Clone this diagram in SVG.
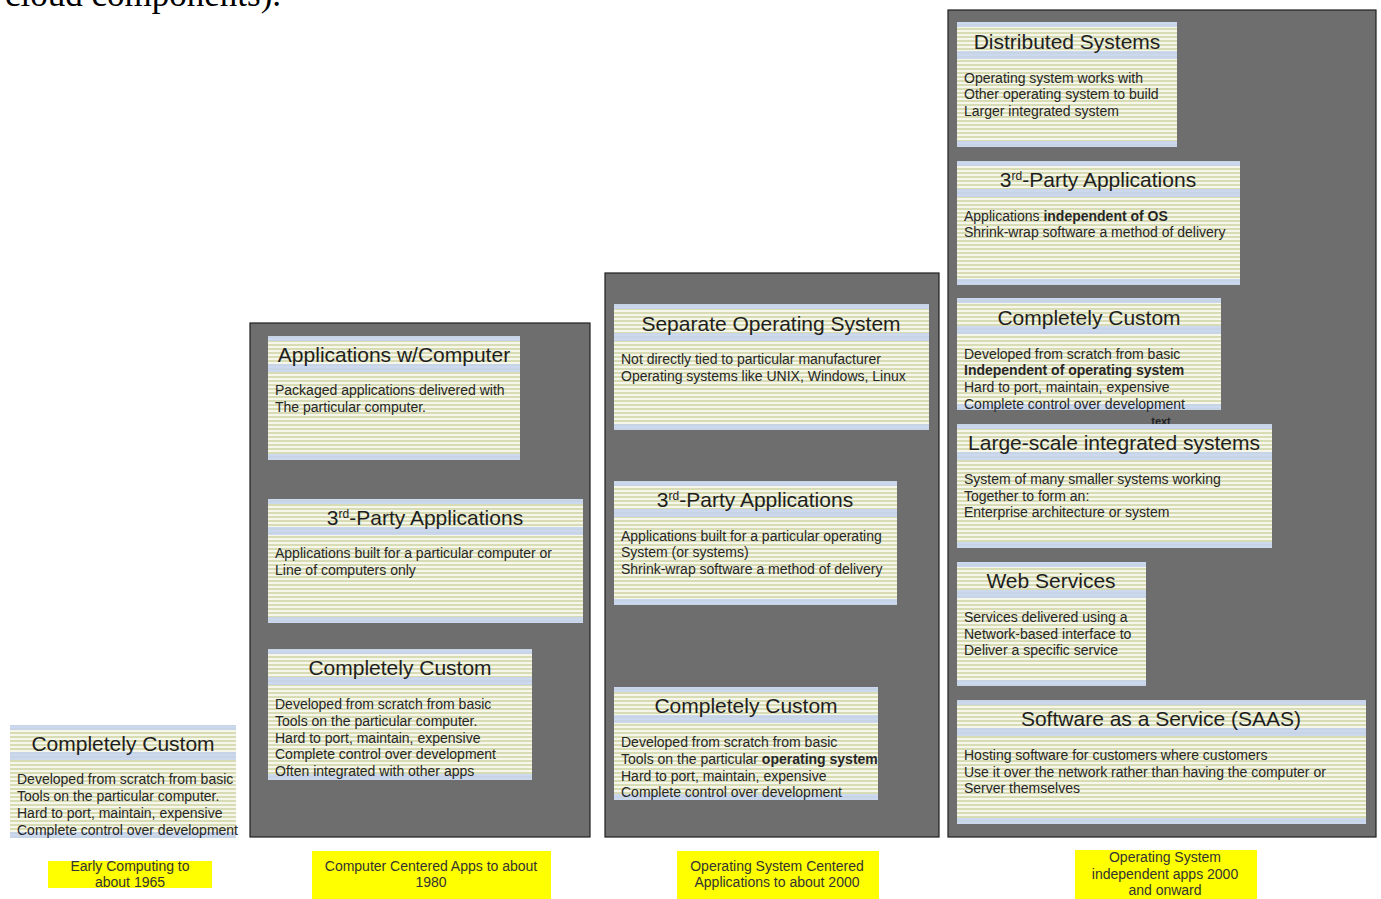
<svg xmlns="http://www.w3.org/2000/svg" width="1381" height="899" viewBox="0 0 1381 899">
<defs>
<pattern id="stripes" patternUnits="userSpaceOnUse" width="4" height="4">
<rect width="4" height="4" fill="#f6f6ea"/>
<rect width="4" height="2" fill="#d8dcb4"/>
</pattern>
</defs>
<style>
.panel{fill:#6e6e6e;stroke:#1e1e1e;stroke-width:1.2}
.box{fill:url(#stripes)}
.band{fill:#c4d2ee;opacity:0.85}
.title{font-family:"Liberation Sans",Arial,sans-serif;font-size:21px;fill:#1e1e1e;text-anchor:middle}
.body{font-family:"Liberation Sans",Arial,sans-serif;font-size:14px;fill:#262626}
.b{font-weight:bold}
.lab{fill:#ffff00}
.labt{font-family:"Liberation Sans",Arial,sans-serif;font-size:14px;fill:#333;text-anchor:middle}
.sup{font-size:12px}
</style>
<rect width="1381" height="899" fill="#ffffff"/>
<text x="5" y="6" style="font-family:'Liberation Serif',serif;font-size:35px;fill:#000">cloud components).</text>

<g id="panel-computer-centered">
<rect class="panel" x="250" y="323" width="340" height="514"/>
</g>
<g id="panel-os-centered">
<rect class="panel" x="605" y="273" width="334" height="564"/>
</g>
<g id="panel-os-independent">
<rect class="panel" x="948" y="10" width="428" height="827"/>
</g>

<g id="c1-custom">
<rect class="box" x="10" y="725" width="226" height="113"/>
<rect class="band" x="10" y="725" width="226" height="5"/>
<rect class="band" x="10" y="752" width="226" height="8"/>
<rect class="band" x="10" y="832" width="226" height="6"/>
<text class="title" x="123" y="751">Completely Custom</text>
<text class="body" x="17" y="784">Developed from scratch from basic</text>
<text class="body" x="17" y="801">Tools on the particular computer.</text>
<text class="body" x="17" y="818">Hard to port, maintain, expensive</text>
<text class="body" x="17" y="835">Complete control over development</text>
</g>

<g id="c2-apps">
<rect class="box" x="268" y="336" width="252" height="124"/>
<rect class="band" x="268" y="336" width="252" height="5"/>
<rect class="band" x="268" y="364" width="252" height="8"/>
<rect class="band" x="268" y="454" width="252" height="6"/>
<text class="title" x="394" y="362">Applications w/Computer</text>
<text class="body" x="275" y="395">Packaged applications delivered with</text>
<text class="body" x="275" y="412">The particular computer.</text>
</g>

<g id="c2-3rd">
<rect class="box" x="268" y="499" width="315" height="124"/>
<rect class="band" x="268" y="499" width="315" height="5"/>
<rect class="band" x="268" y="527" width="315" height="8"/>
<rect class="band" x="268" y="617" width="315" height="6"/>
<text class="title" x="425" y="525">3<tspan class="sup" baseline-shift="super">rd</tspan>-Party Applications</text>
<text class="body" x="275" y="558">Applications built for a particular computer or</text>
<text class="body" x="275" y="575">Line of computers only</text>
</g>

<g id="c2-custom">
<rect class="box" x="268" y="649" width="264" height="131"/>
<rect class="band" x="268" y="649" width="264" height="5"/>
<rect class="band" x="268" y="677" width="264" height="8"/>
<rect class="band" x="268" y="774" width="264" height="6"/>
<text class="title" x="400" y="675">Completely Custom</text>
<text class="body" x="275" y="709">Developed from scratch from basic</text>
<text class="body" x="275" y="726">Tools on the particular computer.</text>
<text class="body" x="275" y="743">Hard to port, maintain, expensive</text>
<text class="body" x="275" y="759">Complete control over development</text>
<text class="body" x="275" y="776">Often integrated with other apps</text>
</g>

<g id="c3-sepos">
<rect class="box" x="614" y="304" width="315" height="126"/>
<rect class="band" x="614" y="304" width="315" height="5"/>
<rect class="band" x="614" y="333" width="315" height="8"/>
<rect class="band" x="614" y="424" width="315" height="6"/>
<text class="title" x="771" y="331">Separate Operating System</text>
<text class="body" x="621" y="364">Not directly tied to particular manufacturer</text>
<text class="body" x="621" y="381">Operating systems like UNIX, Windows, Linux</text>
</g>

<g id="c3-3rd">
<rect class="box" x="614" y="481" width="283" height="124"/>
<rect class="band" x="614" y="481" width="283" height="5"/>
<rect class="band" x="614" y="509" width="283" height="8"/>
<rect class="band" x="614" y="599" width="283" height="6"/>
<text class="title" x="755" y="507">3<tspan class="sup" baseline-shift="super">rd</tspan>-Party Applications</text>
<text class="body" x="621" y="541">Applications built for a particular operating</text>
<text class="body" x="621" y="557">System (or systems)</text>
<text class="body" x="621" y="574">Shrink-wrap software a method of delivery</text>
</g>

<g id="c3-custom">
<rect class="box" x="614" y="687" width="264" height="113"/>
<rect class="band" x="614" y="687" width="264" height="5"/>
<rect class="band" x="614" y="715" width="264" height="8"/>
<rect class="band" x="614" y="794" width="264" height="6"/>
<text class="title" x="746" y="713">Completely Custom</text>
<text class="body" x="621" y="747">Developed from scratch from basic</text>
<text class="body" x="621" y="764">Tools on the particular <tspan class="b">operating system</tspan></text>
<text class="body" x="621" y="781">Hard to port, maintain, expensive</text>
<text class="body" x="621" y="797">Complete control over development</text>
</g>

<g id="c4-distributed">
<rect class="box" x="957" y="22" width="220" height="125"/>
<rect class="band" x="957" y="22" width="220" height="5"/>
<rect class="band" x="957" y="51" width="220" height="8"/>
<rect class="band" x="957" y="141" width="220" height="6"/>
<text class="title" x="1067" y="49">Distributed Systems</text>
<text class="body" x="964" y="83">Operating system works with</text>
<text class="body" x="964" y="99">Other operating system to build</text>
<text class="body" x="964" y="116">Larger integrated system</text>
</g>

<g id="c4-3rd">
<rect class="box" x="957" y="161" width="283" height="124"/>
<rect class="band" x="957" y="161" width="283" height="5"/>
<rect class="band" x="957" y="189" width="283" height="8"/>
<rect class="band" x="957" y="279" width="283" height="6"/>
<text class="title" x="1098" y="187">3<tspan class="sup" baseline-shift="super">rd</tspan>-Party Applications</text>
<text class="body" x="964" y="221">Applications <tspan class="b">independent of OS</tspan></text>
<text class="body" x="964" y="237">Shrink-wrap software a method of delivery</text>
</g>

<text x="1161" y="425" style="font-family:'Liberation Sans',Arial,sans-serif;font-size:11px;font-weight:bold;fill:#222;text-anchor:middle">text</text>

<g id="c4-custom">
<rect class="box" x="957" y="298" width="264" height="112"/>
<rect class="band" x="957" y="298" width="264" height="5"/>
<rect class="band" x="957" y="326" width="264" height="8"/>
<rect class="band" x="957" y="404" width="264" height="6"/>
<text class="title" x="1089" y="325">Completely Custom</text>
<text class="body" x="964" y="359">Developed from scratch from basic</text>
<text class="body b" x="964" y="375">Independent of operating system</text>
<text class="body" x="964" y="392">Hard to port, maintain, expensive</text>
<text class="body" x="964" y="409">Complete control over development</text>
</g>

<g id="c4-large">
<rect class="box" x="957" y="424" width="315" height="124"/>
<rect class="band" x="957" y="424" width="315" height="5"/>
<rect class="band" x="957" y="452" width="315" height="8"/>
<rect class="band" x="957" y="542" width="315" height="6"/>
<text class="title" x="1114" y="450">Large-scale integrated systems</text>
<text class="body" x="964" y="484">System of many smaller systems working</text>
<text class="body" x="964" y="501">Together to form an:</text>
<text class="body" x="964" y="517">Enterprise architecture or system</text>
</g>

<g id="c4-web">
<rect class="box" x="957" y="562" width="189" height="124"/>
<rect class="band" x="957" y="562" width="189" height="5"/>
<rect class="band" x="957" y="590" width="189" height="8"/>
<rect class="band" x="957" y="680" width="189" height="6"/>
<text class="title" x="1051" y="588">Web Services</text>
<text class="body" x="964" y="622">Services delivered using a</text>
<text class="body" x="964" y="639">Network-based interface to</text>
<text class="body" x="964" y="655">Deliver a specific service</text>
</g>

<g id="c4-saas">
<rect class="box" x="957" y="700" width="409" height="124"/>
<rect class="band" x="957" y="700" width="409" height="5"/>
<rect class="band" x="957" y="728" width="409" height="8"/>
<rect class="band" x="957" y="818" width="409" height="6"/>
<text class="title" x="1161" y="726">Software as a Service (SAAS)</text>
<text class="body" x="964" y="760">Hosting software for customers where customers</text>
<text class="body" x="964" y="777">Use it over the network rather than having the computer or</text>
<text class="body" x="964" y="793">Server themselves</text>
</g>

<g id="label-1">
<rect class="lab" x="48" y="861" width="164" height="27"/>
<text class="labt" x="130" y="871">Early Computing to</text>
<text class="labt" x="130" y="887">about 1965</text>
</g>
<g id="label-2">
<rect class="lab" x="312" y="851" width="239" height="48"/>
<text class="labt" x="431" y="871">Computer Centered Apps to about</text>
<text class="labt" x="431" y="887">1980</text>
</g>
<g id="label-3">
<rect class="lab" x="677" y="851" width="202" height="48"/>
<text class="labt" x="777" y="871">Operating System Centered</text>
<text class="labt" x="777" y="887">Applications to about 2000</text>
</g>
<g id="label-4">
<rect class="lab" x="1075" y="850" width="182" height="49"/>
<text class="labt" x="1165" y="862">Operating System</text>
<text class="labt" x="1165" y="879">independent apps 2000</text>
<text class="labt" x="1165" y="895">and onward</text>
</g>
<g id="connectors"></g>
</svg>
